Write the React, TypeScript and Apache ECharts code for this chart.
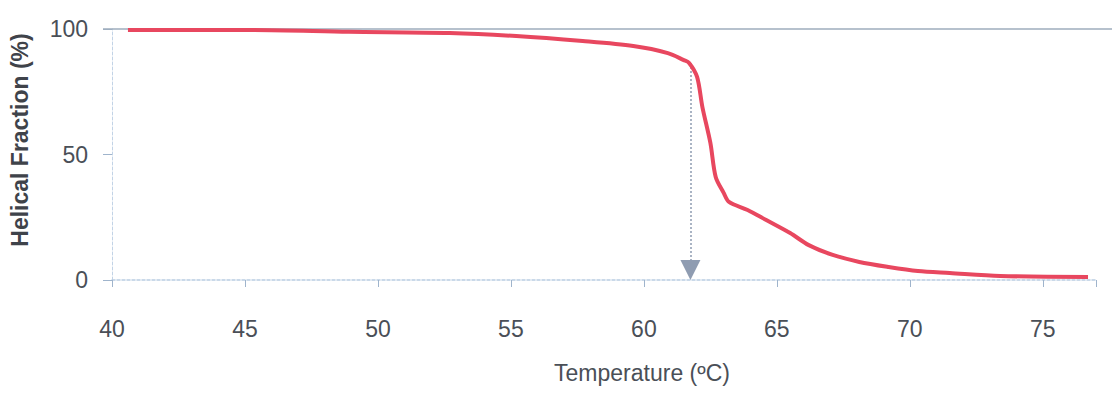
import React, { useEffect, useRef } from "react";
import * as echarts from "echarts";

const temperature = [40.6, 45.2, 48.9, 52.7, 55.2, 57.7, 59.6, 60.9, 61.5, 61.7, 62.0, 62.2, 62.5, 62.7, 63.0, 63.2, 63.9, 64.6, 65.5, 66.2, 67.1, 68.1, 69.2, 70.3, 71.5, 73.4, 76.7];
const helicalFraction = [99.6, 99.6, 98.9, 98.4, 97.2, 95.2, 93.2, 90.4, 87.6, 86.5, 80.9, 68.9, 54.6, 41.0, 34.7, 31.1, 27.9, 23.9, 18.7, 13.9, 10.0, 7.2, 5.2, 3.6, 2.8, 1.6, 1.2];
const meltingPoint = { t: 61.75, top: 86.5 };
const xTicks = [40, 45, 50, 55, 60, 65, 70, 75];
const yTicks = [0, 50, 100];

const FONT = "'Liberation Sans Narrow', 'Liberation Sans', Arial, sans-serif";

export default function App() {
  const ref = useRef<HTMLDivElement>(null);
  useEffect(() => {
    document.body.style.margin = "0";
    const chart = echarts.init(ref.current!, null, { renderer: "svg" });
    chart.setOption({
      animation: false,
      backgroundColor: "#ffffff",
      grid: { left: 112, top: 29, right: 16, bottom: 118, containLabel: false },
      xAxis: {
        type: "value",
        min: 40,
        max: 77,
        interval: 5,
        axisLine: { show: true, lineStyle: { color: "#b9cde2", width: 1.5, type: [3, 2] } },
        axisTick: { show: true, length: 7, inside: false, lineStyle: { color: "#9fb4cc", width: 1 } },
        splitLine: { show: false },
        axisLabel: {
          margin: 37,
          fontSize: 23,
          fontFamily: FONT,
          color: "#4a4f57",
          formatter: (v: number) => (xTicks.includes(v) ? String(v) : ""),
        },
      },
      yAxis: {
        type: "value",
        min: 0,
        max: 100,
        interval: 50,
        axisLine: { show: true, lineStyle: { color: "#c2d3e6", width: 1, type: [3, 2] } },
        axisTick: { show: true, length: 9, lineStyle: { color: "#9fb4cc" } },
        splitLine: { show: false },
        axisLabel: {
          margin: 24,
          fontSize: 23,
          fontFamily: FONT,
          color: "#4a4f57",
          formatter: (v: number) => (yTicks.includes(v) ? String(v) : ""),
        },
      },
      graphic: [
        {
          type: "line",
          shape: { x1: 103, y1: 29, x2: 1112, y2: 29 },
          style: { stroke: "#9eacbd", lineWidth: 1.5 },
          z: 1,
        },
        {
          type: "text",
          x: 642,
          y: 373,
          style: {
            text: "Temperature (ºC)",
            fontSize: 23,
            fontFamily: FONT,
            fill: "#4a4f57",
            align: "center",
            verticalAlign: "middle",
          },
        },
        {
          type: "text",
          x: 20,
          y: 140,
          rotation: Math.PI / 2,
          style: {
            text: "Helical Fraction (%)",
            fontSize: 23,
            fontWeight: "bold",
            fontFamily: FONT,
            fill: "#3f434a",
            align: "center",
            verticalAlign: "middle",
          },
        },
      ],
      series: [
        {
          type: "line",
          data: temperature.map((t, i) => [t, helicalFraction[i]]),
          smooth: 0.3,
          showSymbol: false,
          lineStyle: { color: "#e8475f", width: 4 },
          z: 3,
          markLine: {
            silent: true,
            symbol: ["none", "triangle"],
            symbolSize: [20, 20],
            label: { show: false },
            lineStyle: { color: "#8f9cb1", width: 1.5, type: [2, 2] },
            itemStyle: { color: "#8f9cb1" },
            data: [
              [
                { coord: [meltingPoint.t, meltingPoint.top] },
                { coord: [meltingPoint.t, 4] },
              ],
            ],
            z: 2,
          },
        },
      ],
    });
    return () => chart.dispose();
  }, []);
  return <div ref={ref} style={{ width: 1112, height: 398 }} />;
}
